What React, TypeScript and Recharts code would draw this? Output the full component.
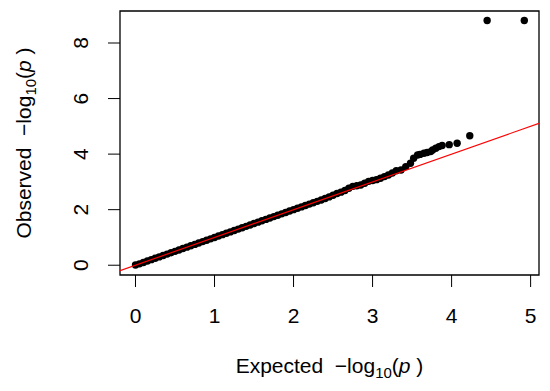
import React from "react";
import { ScatterChart, Scatter, XAxis, YAxis, ReferenceArea } from "recharts";

const expectedVals = [
  0.0, 0.05, 0.1, 0.15, 0.2, 0.25, 0.3, 0.35, 0.4, 0.45, 0.5, 0.55, 0.6, 0.65, 0.7, 0.75, 0.8, 0.85, 0.9, 0.95,
  1.0, 1.05, 1.1, 1.15, 1.2, 1.25, 1.3, 1.35, 1.4, 1.45, 1.5, 1.55, 1.6, 1.65, 1.7, 1.75, 1.8, 1.85, 1.9, 1.95,
  2.0, 2.05, 2.1, 2.15, 2.2, 2.25, 2.3, 2.35, 2.4, 2.45, 2.5, 2.55, 2.6, 2.65, 2.7, 2.75, 2.8, 2.85, 2.9, 2.95,
  3.0, 3.05, 3.1, 3.15, 3.2, 3.25, 3.3,
  3.36, 3.42, 3.48, 3.52, 3.57, 3.6, 3.65, 3.69, 3.735, 3.76, 3.8, 3.84, 3.88, 3.97, 4.07, 4.23, 4.45, 4.92,
];
const observedVals = [
  0.01, 0.05, 0.1, 0.15, 0.2, 0.25, 0.3, 0.35, 0.4, 0.45, 0.5, 0.55, 0.6, 0.65, 0.7, 0.75, 0.8, 0.85, 0.9, 0.95,
  1.0, 1.05, 1.1, 1.15, 1.2, 1.25, 1.3, 1.35, 1.4, 1.45, 1.5, 1.55, 1.6, 1.65, 1.7, 1.75, 1.8, 1.85, 1.9, 1.95,
  2.0, 2.05, 2.1, 2.15, 2.2, 2.25, 2.3, 2.35, 2.4, 2.46, 2.52, 2.58, 2.63, 2.69, 2.77, 2.84, 2.86, 2.89, 2.95, 3.02,
  3.05, 3.08, 3.13, 3.19, 3.25, 3.32, 3.4,
  3.43, 3.55, 3.67, 3.85, 3.97, 3.99, 4.03, 4.06, 4.09, 4.15, 4.21, 4.27, 4.31, 4.34, 4.39, 4.66, 8.81, 8.81,
];
// reference line y = x, across the full plotting range
const diagX = [-0.196, 5.106];
const diagY = [-0.196, 5.106];
const xTicks = [0, 1, 2, 3, 4, 5];
const yTicks = [0, 2, 4, 6, 8];
const xDomain = [-0.196, 5.106];
const yDomain = [-0.352, 9.152];

const data = expectedVals.map((x, i) => ({ x, y: observedVals[i] }));
const diagData = diagX.map((x, i) => ({ x, y: diagY[i] }));

const FONT = "'Liberation Sans', Arial, sans-serif";

const Dot = (props: any) => <circle cx={props.cx} cy={props.cy} r={3.7} fill="#000" />;
const NoDot = () => null;

const XTick = (props: any) => (
  <text x={props.x} y={props.y} dy="0.71em" textAnchor="middle" fontSize={21} fontFamily={FONT} fill="#000">
    {props.payload.value}
  </text>
);

const YTick = (props: any) => (
  <text
    x={props.x}
    y={props.y}
    textAnchor="middle"
    fontSize={21}
    fontFamily={FONT}
    fill="#000"
    transform={`rotate(-90, ${props.x}, ${props.y})`}
  >
    {props.payload.value}
  </text>
);

const Title = ({ prefix }: { prefix: string }) => (
  <>
    {prefix}
    {"  \u2212log"}
    <tspan fontSize={15} dy={5}>10</tspan>
    <tspan dy={-5}>(</tspan>
    <tspan fontStyle="italic">p</tspan>
    {" )"}
  </>
);

const XLabel = (props: any) => {
  const vb = props.viewBox || {};
  return (
    <text
      x={vb.x + vb.width / 2}
      y={vb.y + 98}
      textAnchor="middle"
      fontSize={21}
      fontFamily={FONT}
      fill="#000"
      style={{ whiteSpace: "pre" }}
    >
      <Title prefix="Expected" />
    </text>
  );
};

const YLabel = (props: any) => {
  const vb = props.viewBox || {};
  const cx = 31;
  const cy = vb.y + vb.height / 2;
  return (
    <text
      x={cx}
      y={cy}
      textAnchor="middle"
      fontSize={21}
      fontFamily={FONT}
      fill="#000"
      style={{ whiteSpace: "pre" }}
      transform={`rotate(-90, ${cx}, ${cy})`}
    >
      <Title prefix="Observed" />
    </text>
  );
};

export default function App() {
  return (
    <div style={{ position: "absolute", left: 0, top: 0, background: "#fff" }}>
      <ScatterChart width={550} height={391} margin={{ top: 11, right: 11, bottom: 0, left: 0 }}>
        <XAxis
          type="number"
          dataKey="x"
          domain={xDomain}
          ticks={xTicks}
          interval={0}
          allowDataOverflow
          axisLine={false}
          tickLine={{ stroke: "#000", strokeWidth: 1 }}
          tickSize={12}
          tickMargin={21}
          height={116}
          tick={<XTick />}
          label={<XLabel />}
        />
        <YAxis
          type="number"
          dataKey="y"
          domain={yDomain}
          ticks={yTicks}
          interval={0}
          allowDataOverflow
          axisLine={false}
          tickLine={{ stroke: "#000", strokeWidth: 1 }}
          tickSize={12}
          tickMargin={20}
          width={120}
          tick={<YTick />}
          label={<YLabel />}
        />
        <Scatter data={data} shape={<Dot />} isAnimationActive={false} />
        <Scatter
          data={diagData}
          shape={<NoDot />}
          line={{ stroke: "#ff0000", strokeWidth: 1.1 }}
          isAnimationActive={false}
        />
        <ReferenceArea
          x1={xDomain[0]}
          x2={xDomain[1]}
          y1={yDomain[0]}
          y2={yDomain[1]}
          fill="none"
          fillOpacity={0}
          stroke="#000"
          strokeWidth={1.3}
          strokeOpacity={1}
          ifOverflow="visible"
        />
      </ScatterChart>
    </div>
  );
}
